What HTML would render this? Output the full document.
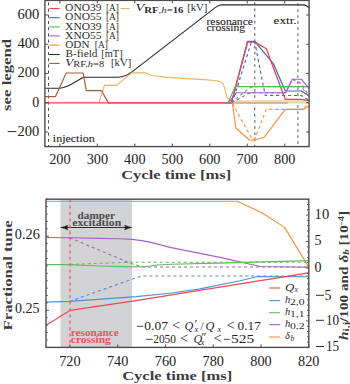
<!DOCTYPE html><html><head><meta charset="utf-8"><style>html,body{margin:0;padding:0;width:350px;height:384px;overflow:hidden;background:#fff}</style></head><body><svg width="350" height="384" viewBox="0 0 350 384" style="position:absolute;left:0;top:0">
<rect width="350" height="384" fill="#fff"/>
<rect x="60.5" y="199.2" width="71.5" height="148.2" fill="#d3d3d5"/>
<line x1="48.5" y1="0.4" x2="48.5" y2="146.6" stroke="#505050" stroke-width="1" stroke-dasharray="3,3.2" stroke-dashoffset="4.2"/>
<line x1="254.8" y1="0.4" x2="254.8" y2="146.6" stroke="#555" stroke-width="1" stroke-dasharray="2.7,3.5" stroke-dashoffset="4.4"/>
<line x1="297.9" y1="0.4" x2="297.9" y2="146.6" stroke="#555" stroke-width="1" stroke-dasharray="2.7,3.3" stroke-dashoffset="3.2"/>
<path d="M44.9,88.3 L59.3,88.3 C68,88.3 76,81 83.6,77.3 L117.9,77.2 C124,77.2 128.5,74.8 133.6,70.6 L215.5,7.4 C218,5.6 219.5,4.9 222,4.9 L303,4.9 C306,5.0 308,6.5 309.1,8" fill="none" stroke="#2b2b2b" stroke-width="1.1"/>
<polyline points="98.80,103.00 104.40,85.40 116.40,85.40 131.90,72.90 145.60,72.90 151.60,75.50 170.00,77.60 200.00,79.40 212.00,80.20 218.00,81.00 221.30,82.30 223.30,84.30 224.60,87.60 225.70,92.80 227.00,97.30 229.30,99.90 233.00,101.20" fill="none" stroke="#e8b45e" stroke-width="1.1" stroke-linejoin="round"/>
<polyline points="232.00,101.90 306.10,101.90 309.10,103.00" fill="none" stroke="#f1d8aa" stroke-width="3.2" stroke-linejoin="round"/>
<polyline points="44.90,96.60 55.50,96.60 66.20,73.00 83.20,73.00 86.30,90.70 101.60,90.70 108.40,102.90 232.00,103.00" fill="none" stroke="#a35e3c" stroke-width="1.2" stroke-linejoin="round"/>
<polyline points="232.00,103.00 288.00,103.00" fill="none" stroke="#b98e70" stroke-width="1.0" stroke-linejoin="round"/>
<polyline points="231.40,102.90 247.50,41.30 254.60,41.30 273.20,63.30 285.30,91.00 301.40,91.00 309.10,96.00" fill="none" stroke="#4566c0" stroke-width="1.2" stroke-linejoin="round"/>
<polyline points="44.90,102.90 231.30,102.90 247.70,42.10 254.90,42.10 266.30,48.80 285.20,99.30 301.40,99.30 309.10,100.60" fill="none" stroke="#f0404c" stroke-width="1.25" stroke-linejoin="round"/>
<polyline points="232.30,102.90 251.30,42.30 254.80,42.30 265.20,95.40 301.40,95.50 309.10,100.50" fill="none" stroke="#4566c0" stroke-width="1.15" stroke-dasharray="3.1,2.9" stroke-linejoin="round"/>
<polyline points="228.10,102.80 235.00,86.60 309.10,86.60" fill="none" stroke="#5cb65a" stroke-width="1.1" stroke-linejoin="round"/>
<polyline points="231.00,102.80 249.30,88.10 252.70,86.60 301.40,86.60 309.10,97.00" fill="none" stroke="#5cb65a" stroke-width="1.1" stroke-dasharray="3.1,2.9" stroke-linejoin="round"/>
<polyline points="228.50,102.80 236.10,92.80 285.70,92.80 292.30,79.20 301.40,79.20 309.10,88.70" fill="none" stroke="#a25cc2" stroke-width="1.1" stroke-linejoin="round"/>
<polyline points="231.50,102.80 248.00,93.90 252.00,92.80 285.70,92.80 292.30,79.20 301.40,83.70 309.10,96.40" fill="none" stroke="#a25cc2" stroke-width="1.1" stroke-dasharray="3.1,2.9" stroke-linejoin="round"/>
<polyline points="232.40,103.50 235.90,128.00 249.30,140.00 254.90,140.10 264.60,136.90 285.20,109.40 303.20,109.40 309.10,106.00" fill="none" stroke="#ff8c34" stroke-width="1.1" stroke-linejoin="round"/>
<polyline points="232.40,103.50 252.30,139.30 254.90,138.50 266.30,109.40 303.20,109.40 306.60,105.00 309.10,103.00" fill="none" stroke="#ff8c34" stroke-width="1.1" stroke-dasharray="3.1,2.9" stroke-linejoin="round"/>
<line x1="49.3" y1="8.5" x2="59.7" y2="8.5" stroke="#f0404c" stroke-width="1.1"/>
<line x1="49.3" y1="17.7" x2="59.7" y2="17.7" stroke="#4566c0" stroke-width="1.1"/>
<line x1="49.3" y1="26.9" x2="59.7" y2="26.9" stroke="#5cb65a" stroke-width="1.1"/>
<line x1="49.3" y1="35.9" x2="59.7" y2="35.9" stroke="#a25cc2" stroke-width="1.1"/>
<line x1="49.3" y1="45.1" x2="59.7" y2="45.1" stroke="#ff8c34" stroke-width="1.1"/>
<line x1="49.3" y1="54.5" x2="59.7" y2="54.5" stroke="#2b2b2b" stroke-width="1.1"/>
<line x1="49.3" y1="63.4" x2="59.7" y2="63.4" stroke="#a35e3c" stroke-width="1.1"/>
<line x1="120.7" y1="8.5" x2="129.8" y2="8.5" stroke="#e8b45e" stroke-width="1.1"/>
<rect x="44.9" y="0.4" width="264.20000000000005" height="146.2" fill="none" stroke="#4d4d4d" stroke-width="1.4"/>
<line x1="44.9" y1="15.02" x2="47.9" y2="15.02" stroke="#4d4d4d" stroke-width="1"/>
<line x1="306.1" y1="15.02" x2="309.1" y2="15.02" stroke="#4d4d4d" stroke-width="1"/>
<line x1="44.9" y1="44.26" x2="47.9" y2="44.26" stroke="#4d4d4d" stroke-width="1"/>
<line x1="306.1" y1="44.26" x2="309.1" y2="44.26" stroke="#4d4d4d" stroke-width="1"/>
<line x1="44.9" y1="73.50" x2="47.9" y2="73.50" stroke="#4d4d4d" stroke-width="1"/>
<line x1="306.1" y1="73.50" x2="309.1" y2="73.50" stroke="#4d4d4d" stroke-width="1"/>
<line x1="44.9" y1="102.74" x2="47.9" y2="102.74" stroke="#4d4d4d" stroke-width="1"/>
<line x1="306.1" y1="102.74" x2="309.1" y2="102.74" stroke="#4d4d4d" stroke-width="1"/>
<line x1="44.9" y1="131.98" x2="47.9" y2="131.98" stroke="#4d4d4d" stroke-width="1"/>
<line x1="306.1" y1="131.98" x2="309.1" y2="131.98" stroke="#4d4d4d" stroke-width="1"/>
<line x1="59.89" y1="146.6" x2="59.89" y2="143.6" stroke="#4d4d4d" stroke-width="1"/>
<line x1="59.89" y1="0.4" x2="59.89" y2="3.4" stroke="#4d4d4d" stroke-width="1"/>
<line x1="97.37" y1="146.6" x2="97.37" y2="143.6" stroke="#4d4d4d" stroke-width="1"/>
<line x1="97.37" y1="0.4" x2="97.37" y2="3.4" stroke="#4d4d4d" stroke-width="1"/>
<line x1="134.84" y1="146.6" x2="134.84" y2="143.6" stroke="#4d4d4d" stroke-width="1"/>
<line x1="134.84" y1="0.4" x2="134.84" y2="3.4" stroke="#4d4d4d" stroke-width="1"/>
<line x1="172.32" y1="146.6" x2="172.32" y2="143.6" stroke="#4d4d4d" stroke-width="1"/>
<line x1="172.32" y1="0.4" x2="172.32" y2="3.4" stroke="#4d4d4d" stroke-width="1"/>
<line x1="209.79" y1="146.6" x2="209.79" y2="143.6" stroke="#4d4d4d" stroke-width="1"/>
<line x1="209.79" y1="0.4" x2="209.79" y2="3.4" stroke="#4d4d4d" stroke-width="1"/>
<line x1="247.27" y1="146.6" x2="247.27" y2="143.6" stroke="#4d4d4d" stroke-width="1"/>
<line x1="247.27" y1="0.4" x2="247.27" y2="3.4" stroke="#4d4d4d" stroke-width="1"/>
<line x1="284.74" y1="146.6" x2="284.74" y2="143.6" stroke="#4d4d4d" stroke-width="1"/>
<line x1="284.74" y1="0.4" x2="284.74" y2="3.4" stroke="#4d4d4d" stroke-width="1"/>
<polyline points="46.00,201.20 237.10,201.20 261.00,212.30 284.60,227.40 308.80,267.40" fill="none" stroke="#f78e3a" stroke-width="1.1" stroke-linejoin="round"/>
<polyline points="46.00,237.50 69.70,237.70 100.00,238.40 120.00,238.80 132.00,239.40 142.00,240.60 152.00,242.60 170.00,247.40 220.00,257.40 260.40,266.50 308.80,267.20" fill="none" stroke="#a462c4" stroke-width="1.1" stroke-linejoin="round"/>
<polyline points="69.70,237.70 131.00,263.50 142.90,267.00 308.80,267.00" fill="none" stroke="#a462c4" stroke-width="1.1" stroke-dasharray="3.1,2.9" stroke-linejoin="round"/>
<polyline points="46.00,264.60 69.70,264.60 100.00,266.00 130.00,266.90 145.00,266.70 158.00,265.00 172.00,264.20 218.00,263.10 308.80,260.60" fill="none" stroke="#62ba60" stroke-width="1.1" stroke-linejoin="round"/>
<polyline points="69.70,264.40 131.00,262.20 308.80,262.20" fill="none" stroke="#62ba60" stroke-width="1.1" stroke-dasharray="3.1,2.9" stroke-linejoin="round"/>
<polyline points="46.00,302.10 69.70,301.40 136.00,296.60 170.00,293.20 200.00,288.90 240.00,280.70 258.00,276.50 308.80,276.70" fill="none" stroke="#5092d4" stroke-width="1.1" stroke-linejoin="round"/>
<polyline points="69.70,301.40 136.00,277.90 142.00,276.00 308.80,276.00" fill="none" stroke="#5092d4" stroke-width="1.1" stroke-dasharray="3.1,2.9" stroke-linejoin="round"/>
<polyline points="46.00,325.30 70.00,310.40 136.00,300.60 240.00,283.90 308.80,272.90" fill="none" stroke="#ea4a54" stroke-width="1.2" stroke-linejoin="round"/>
<line x1="269.2" y1="288.0" x2="280.2" y2="288.0" stroke="#ea4a54" stroke-width="1.1"/>
<line x1="269.2" y1="300.6" x2="280.2" y2="300.6" stroke="#5092d4" stroke-width="1.1"/>
<line x1="269.2" y1="312.7" x2="280.2" y2="312.7" stroke="#62ba60" stroke-width="1.1"/>
<line x1="269.2" y1="324.6" x2="280.2" y2="324.6" stroke="#a462c4" stroke-width="1.1"/>
<line x1="269.2" y1="337.0" x2="280.2" y2="337.0" stroke="#f78e3a" stroke-width="1.1"/>
<line x1="61.5" y1="227.5" x2="131.0" y2="227.5" stroke="#1e1e1e" stroke-width="0.9"/>
<path d="M60.5,227.5 Q64.5,226.9 68.1,225.0 Q66.1,227.5 68.1,230.0 Q64.5,228.1 60.5,227.5 Z" fill="#1a1a1a" stroke="#1a1a1a" stroke-width="0.35"/>
<path d="M132.0,227.5 Q128.0,226.9 124.4,225.0 Q126.4,227.5 124.4,230.0 Q128.0,228.1 132.0,227.5 Z" fill="#1a1a1a" stroke="#1a1a1a" stroke-width="0.35"/>
<line x1="70" y1="199.2" x2="70" y2="347.4" stroke="#e8525a" stroke-width="1.2" stroke-dasharray="3,3.4"/>
<rect x="46.0" y="199.2" width="262.8" height="148.2" fill="none" stroke="#4d4d4d" stroke-width="1.4"/>
<line x1="46.0" y1="347.40" x2="47.8" y2="347.40" stroke="#4d4d4d" stroke-width="0.9"/>
<line x1="46.0" y1="339.99" x2="47.8" y2="339.99" stroke="#4d4d4d" stroke-width="0.9"/>
<line x1="46.0" y1="332.58" x2="47.8" y2="332.58" stroke="#4d4d4d" stroke-width="0.9"/>
<line x1="46.0" y1="325.17" x2="47.8" y2="325.17" stroke="#4d4d4d" stroke-width="0.9"/>
<line x1="46.0" y1="317.76" x2="47.8" y2="317.76" stroke="#4d4d4d" stroke-width="0.9"/>
<line x1="46.0" y1="310.35" x2="49.0" y2="310.35" stroke="#4d4d4d" stroke-width="0.9"/>
<line x1="46.0" y1="302.94" x2="47.8" y2="302.94" stroke="#4d4d4d" stroke-width="0.9"/>
<line x1="46.0" y1="295.53" x2="47.8" y2="295.53" stroke="#4d4d4d" stroke-width="0.9"/>
<line x1="46.0" y1="288.12" x2="47.8" y2="288.12" stroke="#4d4d4d" stroke-width="0.9"/>
<line x1="46.0" y1="280.71" x2="47.8" y2="280.71" stroke="#4d4d4d" stroke-width="0.9"/>
<line x1="46.0" y1="273.30" x2="47.8" y2="273.30" stroke="#4d4d4d" stroke-width="0.9"/>
<line x1="46.0" y1="265.89" x2="47.8" y2="265.89" stroke="#4d4d4d" stroke-width="0.9"/>
<line x1="46.0" y1="258.48" x2="47.8" y2="258.48" stroke="#4d4d4d" stroke-width="0.9"/>
<line x1="46.0" y1="251.07" x2="47.8" y2="251.07" stroke="#4d4d4d" stroke-width="0.9"/>
<line x1="46.0" y1="243.66" x2="47.8" y2="243.66" stroke="#4d4d4d" stroke-width="0.9"/>
<line x1="46.0" y1="236.25" x2="49.0" y2="236.25" stroke="#4d4d4d" stroke-width="0.9"/>
<line x1="46.0" y1="228.84" x2="47.8" y2="228.84" stroke="#4d4d4d" stroke-width="0.9"/>
<line x1="46.0" y1="221.43" x2="47.8" y2="221.43" stroke="#4d4d4d" stroke-width="0.9"/>
<line x1="46.0" y1="214.02" x2="47.8" y2="214.02" stroke="#4d4d4d" stroke-width="0.9"/>
<line x1="46.0" y1="206.61" x2="47.8" y2="206.61" stroke="#4d4d4d" stroke-width="0.9"/>
<line x1="46.0" y1="199.20" x2="47.8" y2="199.20" stroke="#4d4d4d" stroke-width="0.9"/>
<line x1="305.8" y1="347.40" x2="308.8" y2="347.40" stroke="#4d4d4d" stroke-width="0.9"/>
<line x1="307.0" y1="342.11" x2="308.8" y2="342.11" stroke="#4d4d4d" stroke-width="0.9"/>
<line x1="307.0" y1="336.81" x2="308.8" y2="336.81" stroke="#4d4d4d" stroke-width="0.9"/>
<line x1="307.0" y1="331.52" x2="308.8" y2="331.52" stroke="#4d4d4d" stroke-width="0.9"/>
<line x1="307.0" y1="326.23" x2="308.8" y2="326.23" stroke="#4d4d4d" stroke-width="0.9"/>
<line x1="305.8" y1="320.94" x2="308.8" y2="320.94" stroke="#4d4d4d" stroke-width="0.9"/>
<line x1="307.0" y1="315.64" x2="308.8" y2="315.64" stroke="#4d4d4d" stroke-width="0.9"/>
<line x1="307.0" y1="310.35" x2="308.8" y2="310.35" stroke="#4d4d4d" stroke-width="0.9"/>
<line x1="307.0" y1="305.06" x2="308.8" y2="305.06" stroke="#4d4d4d" stroke-width="0.9"/>
<line x1="307.0" y1="299.76" x2="308.8" y2="299.76" stroke="#4d4d4d" stroke-width="0.9"/>
<line x1="305.8" y1="294.47" x2="308.8" y2="294.47" stroke="#4d4d4d" stroke-width="0.9"/>
<line x1="307.0" y1="289.18" x2="308.8" y2="289.18" stroke="#4d4d4d" stroke-width="0.9"/>
<line x1="307.0" y1="283.89" x2="308.8" y2="283.89" stroke="#4d4d4d" stroke-width="0.9"/>
<line x1="307.0" y1="278.59" x2="308.8" y2="278.59" stroke="#4d4d4d" stroke-width="0.9"/>
<line x1="307.0" y1="273.30" x2="308.8" y2="273.30" stroke="#4d4d4d" stroke-width="0.9"/>
<line x1="305.8" y1="268.01" x2="308.8" y2="268.01" stroke="#4d4d4d" stroke-width="0.9"/>
<line x1="307.0" y1="262.71" x2="308.8" y2="262.71" stroke="#4d4d4d" stroke-width="0.9"/>
<line x1="307.0" y1="257.42" x2="308.8" y2="257.42" stroke="#4d4d4d" stroke-width="0.9"/>
<line x1="307.0" y1="252.13" x2="308.8" y2="252.13" stroke="#4d4d4d" stroke-width="0.9"/>
<line x1="307.0" y1="246.84" x2="308.8" y2="246.84" stroke="#4d4d4d" stroke-width="0.9"/>
<line x1="305.8" y1="241.54" x2="308.8" y2="241.54" stroke="#4d4d4d" stroke-width="0.9"/>
<line x1="307.0" y1="236.25" x2="308.8" y2="236.25" stroke="#4d4d4d" stroke-width="0.9"/>
<line x1="307.0" y1="230.96" x2="308.8" y2="230.96" stroke="#4d4d4d" stroke-width="0.9"/>
<line x1="307.0" y1="225.66" x2="308.8" y2="225.66" stroke="#4d4d4d" stroke-width="0.9"/>
<line x1="307.0" y1="220.37" x2="308.8" y2="220.37" stroke="#4d4d4d" stroke-width="0.9"/>
<line x1="305.8" y1="215.08" x2="308.8" y2="215.08" stroke="#4d4d4d" stroke-width="0.9"/>
<line x1="307.0" y1="209.79" x2="308.8" y2="209.79" stroke="#4d4d4d" stroke-width="0.9"/>
<line x1="307.0" y1="204.49" x2="308.8" y2="204.49" stroke="#4d4d4d" stroke-width="0.9"/>
<line x1="307.0" y1="199.20" x2="308.8" y2="199.20" stroke="#4d4d4d" stroke-width="0.9"/>
<line x1="69.89" y1="347.4" x2="69.89" y2="344.4" stroke="#4d4d4d" stroke-width="1"/>
<line x1="117.67" y1="347.4" x2="117.67" y2="344.4" stroke="#4d4d4d" stroke-width="1"/>
<line x1="165.45" y1="347.4" x2="165.45" y2="344.4" stroke="#4d4d4d" stroke-width="1"/>
<line x1="213.24" y1="347.4" x2="213.24" y2="344.4" stroke="#4d4d4d" stroke-width="1"/>
<line x1="261.02" y1="347.4" x2="261.02" y2="344.4" stroke="#4d4d4d" stroke-width="1"/>
<line x1="308.80" y1="347.4" x2="308.80" y2="344.4" stroke="#4d4d4d" stroke-width="1"/>
<text x="39.2" y="18.919999999999998" font-size="14" text-anchor="end" font-weight="normal" fill="#222" font-family="Liberation Serif, serif" textLength="21.8" lengthAdjust="spacingAndGlyphs" >600</text>
<text x="39.2" y="48.160000000000004" font-size="14" text-anchor="end" font-weight="normal" fill="#222" font-family="Liberation Serif, serif" textLength="21.8" lengthAdjust="spacingAndGlyphs" >400</text>
<text x="39.2" y="77.4" font-size="14" text-anchor="end" font-weight="normal" fill="#222" font-family="Liberation Serif, serif" textLength="21.8" lengthAdjust="spacingAndGlyphs" >200</text>
<text x="39.2" y="106.64" font-size="14" text-anchor="end" font-weight="normal" fill="#222" font-family="Liberation Serif, serif" >0</text>
<text x="39.2" y="135.88" font-size="14" text-anchor="end" font-weight="normal" fill="#222" font-family="Liberation Serif, serif" textLength="21.8" lengthAdjust="spacingAndGlyphs" >200</text>
<line x1="7.6" y1="131.58" x2="16.4" y2="131.58" stroke="#222" stroke-width="0.95"/>
<text x="59.89007092198582" y="164.2" font-size="14" text-anchor="middle" font-weight="normal" fill="#222" font-family="Liberation Serif, serif" textLength="21.4" lengthAdjust="spacingAndGlyphs" >200</text>
<text x="97.36524822695037" y="164.2" font-size="14" text-anchor="middle" font-weight="normal" fill="#222" font-family="Liberation Serif, serif" textLength="21.4" lengthAdjust="spacingAndGlyphs" >300</text>
<text x="134.84042553191492" y="164.2" font-size="14" text-anchor="middle" font-weight="normal" fill="#222" font-family="Liberation Serif, serif" textLength="21.4" lengthAdjust="spacingAndGlyphs" >400</text>
<text x="172.31560283687946" y="164.2" font-size="14" text-anchor="middle" font-weight="normal" fill="#222" font-family="Liberation Serif, serif" textLength="21.4" lengthAdjust="spacingAndGlyphs" >500</text>
<text x="209.790780141844" y="164.2" font-size="14" text-anchor="middle" font-weight="normal" fill="#222" font-family="Liberation Serif, serif" textLength="21.4" lengthAdjust="spacingAndGlyphs" >600</text>
<text x="247.26595744680856" y="164.2" font-size="14" text-anchor="middle" font-weight="normal" fill="#222" font-family="Liberation Serif, serif" textLength="21.4" lengthAdjust="spacingAndGlyphs" >700</text>
<text x="284.7411347517731" y="164.2" font-size="14" text-anchor="middle" font-weight="normal" fill="#222" font-family="Liberation Serif, serif" textLength="21.4" lengthAdjust="spacingAndGlyphs" >800</text>
<text x="176.2" y="179.3" font-size="13" text-anchor="middle" font-weight="bold" fill="#3c3c3c" font-family="Liberation Serif, serif" textLength="110" lengthAdjust="spacingAndGlyphs" >Cycle time [ms]</text>
<text x="0" y="0" font-size="13" text-anchor="middle" font-weight="bold" fill="#3c3c3c" font-family="Liberation Serif, serif" textLength="72" lengthAdjust="spacingAndGlyphs" transform="translate(11.2,74.9) rotate(-90)">see legend</text>
<text x="65.1" y="11.1" font-size="9.5" text-anchor="start" font-weight="normal" fill="#2c2c2c" font-family="Liberation Serif, serif" textLength="36.5" lengthAdjust="spacingAndGlyphs" >ONO39</text>
<text x="106.0" y="11.1" font-size="9.5" text-anchor="start" font-weight="normal" fill="#2c2c2c" font-family="Liberation Serif, serif" textLength="13.0" lengthAdjust="spacingAndGlyphs" >[A]</text>
<text x="65.1" y="20.3" font-size="9.5" text-anchor="start" font-weight="normal" fill="#2c2c2c" font-family="Liberation Serif, serif" textLength="36.5" lengthAdjust="spacingAndGlyphs" >ONO55</text>
<text x="106.0" y="20.3" font-size="9.5" text-anchor="start" font-weight="normal" fill="#2c2c2c" font-family="Liberation Serif, serif" textLength="13.0" lengthAdjust="spacingAndGlyphs" >[A]</text>
<text x="65.1" y="29.5" font-size="9.5" text-anchor="start" font-weight="normal" fill="#2c2c2c" font-family="Liberation Serif, serif" textLength="36.5" lengthAdjust="spacingAndGlyphs" >XNO39</text>
<text x="106.0" y="29.5" font-size="9.5" text-anchor="start" font-weight="normal" fill="#2c2c2c" font-family="Liberation Serif, serif" textLength="13.0" lengthAdjust="spacingAndGlyphs" >[A]</text>
<text x="65.1" y="38.5" font-size="9.5" text-anchor="start" font-weight="normal" fill="#2c2c2c" font-family="Liberation Serif, serif" textLength="36.5" lengthAdjust="spacingAndGlyphs" >XNO55</text>
<text x="106.0" y="38.5" font-size="9.5" text-anchor="start" font-weight="normal" fill="#2c2c2c" font-family="Liberation Serif, serif" textLength="13.0" lengthAdjust="spacingAndGlyphs" >[A]</text>
<text x="65.3" y="47.7" font-size="9.5" text-anchor="start" font-weight="normal" fill="#2c2c2c" font-family="Liberation Serif, serif" textLength="24.2" lengthAdjust="spacingAndGlyphs" >ODN</text>
<text x="94.8" y="47.7" font-size="9.5" text-anchor="start" font-weight="normal" fill="#2c2c2c" font-family="Liberation Serif, serif" textLength="13.0" lengthAdjust="spacingAndGlyphs" >[A]</text>
<text x="65.5" y="57.1" font-size="9.5" text-anchor="start" font-weight="normal" fill="#2c2c2c" font-family="Liberation Serif, serif" textLength="32.0" lengthAdjust="spacingAndGlyphs" >B-field</text>
<text x="101.3" y="57.1" font-size="9.5" text-anchor="start" font-weight="normal" fill="#2c2c2c" font-family="Liberation Serif, serif" textLength="21.3" lengthAdjust="spacingAndGlyphs" >[mT]</text>
<text x="65.2" y="66.0" font-size="10" fill="#2c2c2c" font-family="Liberation Serif, serif" textLength="39" lengthAdjust="spacingAndGlyphs"><tspan font-style="italic">V</tspan><tspan font-size="8" dy="1.4">RF</tspan><tspan font-size="8">,</tspan><tspan font-size="8" font-style="italic">h</tspan><tspan font-size="8">=8</tspan></text>
<text x="111.0" y="66.0" font-size="10" text-anchor="start" font-weight="normal" fill="#2c2c2c" font-family="Liberation Serif, serif" textLength="20.2" lengthAdjust="spacingAndGlyphs" >[kV]</text>
<text x="135.5" y="11.1" font-size="10" fill="#2c2c2c" font-family="Liberation Serif, serif" textLength="48" lengthAdjust="spacingAndGlyphs"><tspan font-style="italic">V</tspan><tspan font-size="7.5" font-weight="bold" dy="1.4">RF</tspan><tspan font-size="7.5">,</tspan><tspan font-size="7.5" font-style="italic">h</tspan><tspan font-size="7.5">=</tspan><tspan font-size="7.5" font-weight="bold">16</tspan></text>
<text x="187.2" y="11.1" font-size="10" text-anchor="start" font-weight="normal" fill="#2c2c2c" font-family="Liberation Serif, serif" textLength="20.2" lengthAdjust="spacingAndGlyphs" >[kV]</text>
<text x="206.5" y="24.6" font-size="10" text-anchor="start" font-weight="normal" fill="#1a1a1a" font-family="Liberation Serif, serif" textLength="46.5" lengthAdjust="spacingAndGlyphs" stroke="#1a1a1a" stroke-width="0.08">resonance</text>
<text x="206.5" y="31.4" font-size="10" text-anchor="start" font-weight="normal" fill="#1a1a1a" font-family="Liberation Serif, serif" textLength="38.5" lengthAdjust="spacingAndGlyphs" stroke="#1a1a1a" stroke-width="0.08">crossing</text>
<text x="273.6" y="24.3" font-size="10" text-anchor="start" font-weight="normal" fill="#1a1a1a" font-family="Liberation Serif, serif" textLength="23" lengthAdjust="spacingAndGlyphs" stroke="#1a1a1a" stroke-width="0.08">extr.</text>
<text x="52.8" y="141.6" font-size="10" text-anchor="start" font-weight="normal" fill="#1a1a1a" font-family="Liberation Serif, serif" textLength="42" lengthAdjust="spacingAndGlyphs" stroke="#1a1a1a" stroke-width="0.08">injection</text>
<text x="39.8" y="239.4" font-size="14" text-anchor="end" font-weight="normal" fill="#222" font-family="Liberation Serif, serif" textLength="25" lengthAdjust="spacingAndGlyphs" >0.26</text>
<text x="39.6" y="313.2" font-size="14" text-anchor="end" font-weight="normal" fill="#222" font-family="Liberation Serif, serif" textLength="24.5" lengthAdjust="spacingAndGlyphs" >0.25</text>
<text x="314.6" y="218.79999999999998" font-size="14" text-anchor="start" font-weight="normal" fill="#222" font-family="Liberation Serif, serif" textLength="14.6" lengthAdjust="spacingAndGlyphs" >10</text>
<text x="314.6" y="245.39999999999998" font-size="14" text-anchor="start" font-weight="normal" fill="#222" font-family="Liberation Serif, serif" >5</text>
<text x="314.6" y="271.9" font-size="14" text-anchor="start" font-weight="normal" fill="#222" font-family="Liberation Serif, serif" >0</text>
<text x="324.4" y="299.8" font-size="14" text-anchor="start" font-weight="normal" fill="#222" font-family="Liberation Serif, serif" >5</text>
<line x1="316.0" y1="295.30" x2="324.0" y2="295.30" stroke="#222" stroke-width="0.95"/>
<text x="326.0" y="324.8" font-size="14" text-anchor="start" font-weight="normal" fill="#222" font-family="Liberation Serif, serif" textLength="13.2" lengthAdjust="spacingAndGlyphs" >10</text>
<line x1="316.0" y1="320.30" x2="324.0" y2="320.30" stroke="#222" stroke-width="0.95"/>
<text x="326.0" y="351.0" font-size="14" text-anchor="start" font-weight="normal" fill="#222" font-family="Liberation Serif, serif" textLength="13.2" lengthAdjust="spacingAndGlyphs" >15</text>
<line x1="316.0" y1="346.50" x2="324.0" y2="346.50" stroke="#222" stroke-width="0.95"/>
<text x="69.89090909090909" y="365.6" font-size="14" text-anchor="middle" font-weight="normal" fill="#222" font-family="Liberation Serif, serif" textLength="21.4" lengthAdjust="spacingAndGlyphs" >720</text>
<text x="117.67272727272727" y="365.6" font-size="14" text-anchor="middle" font-weight="normal" fill="#222" font-family="Liberation Serif, serif" textLength="21.4" lengthAdjust="spacingAndGlyphs" >740</text>
<text x="165.45454545454544" y="365.6" font-size="14" text-anchor="middle" font-weight="normal" fill="#222" font-family="Liberation Serif, serif" textLength="21.4" lengthAdjust="spacingAndGlyphs" >760</text>
<text x="213.23636363636365" y="365.6" font-size="14" text-anchor="middle" font-weight="normal" fill="#222" font-family="Liberation Serif, serif" textLength="21.4" lengthAdjust="spacingAndGlyphs" >780</text>
<text x="261.0181818181818" y="365.6" font-size="14" text-anchor="middle" font-weight="normal" fill="#222" font-family="Liberation Serif, serif" textLength="21.4" lengthAdjust="spacingAndGlyphs" >800</text>
<text x="308.8" y="365.6" font-size="14" text-anchor="middle" font-weight="normal" fill="#222" font-family="Liberation Serif, serif" textLength="21.4" lengthAdjust="spacingAndGlyphs" >820</text>
<text x="177.2" y="380.2" font-size="13" text-anchor="middle" font-weight="bold" fill="#3c3c3c" font-family="Liberation Serif, serif" textLength="110" lengthAdjust="spacingAndGlyphs" >Cycle time [ms]</text>
<text x="0" y="0" font-size="13" text-anchor="middle" font-weight="bold" fill="#3c3c3c" font-family="Liberation Serif, serif" textLength="110" lengthAdjust="spacingAndGlyphs" transform="translate(11.7,275.4) rotate(-90)">Fractional tune</text>
<text x="96.3" y="219.2" font-size="9.5" text-anchor="middle" font-weight="bold" fill="#4a4a4a" font-family="Liberation Serif, serif" textLength="37.5" lengthAdjust="spacingAndGlyphs" >damper</text>
<text x="96.7" y="226.4" font-size="9.5" text-anchor="middle" font-weight="bold" fill="#4a4a4a" font-family="Liberation Serif, serif" textLength="49" lengthAdjust="spacingAndGlyphs" >excitation</text>
<text x="70.8" y="336.2" font-size="9.5" text-anchor="start" font-weight="bold" fill="#e65560" font-family="Liberation Serif, serif" textLength="48" lengthAdjust="spacingAndGlyphs" >resonance</text>
<text x="70.8" y="342.6" font-size="9.5" text-anchor="start" font-weight="bold" fill="#e65560" font-family="Liberation Serif, serif" textLength="40" lengthAdjust="spacingAndGlyphs" >crossing</text>
<line x1="136.9" y1="326.3" x2="143.4" y2="326.3" stroke="#262626" stroke-width="0.85"/>
<text x="144.3" y="330.1" font-size="11.5" font-style="normal" fill="#262626" font-family="Liberation Serif, serif" textLength="23.6" lengthAdjust="spacingAndGlyphs">0.07</text>
<text x="171.9" y="330.40000000000003" font-size="14.5" font-style="normal" fill="#262626" font-family="Liberation Serif, serif">&lt;</text>
<text x="184.4" y="330.1" font-size="12.2" font-style="italic" fill="#262626" font-family="Liberation Serif, serif">Q</text>
<text x="194.0" y="328.2" font-size="11.5" font-style="italic" fill="#262626" font-family="Liberation Serif, serif">&#8242;</text>
<text x="194.4" y="331.5" font-size="8" font-style="italic" fill="#262626" font-family="Liberation Serif, serif">x</text>
<text x="200.6" y="330.1" font-size="11.5" font-style="normal" fill="#262626" font-family="Liberation Serif, serif">/</text>
<text x="205.6" y="330.1" font-size="12.2" font-style="italic" fill="#262626" font-family="Liberation Serif, serif">Q</text>
<text x="217.4" y="331.5" font-size="8.5" font-style="italic" fill="#262626" font-family="Liberation Serif, serif">x</text>
<text x="226.5" y="330.40000000000003" font-size="14.5" font-style="normal" fill="#262626" font-family="Liberation Serif, serif">&lt;</text>
<text x="237.6" y="330.1" font-size="11.5" font-style="normal" fill="#262626" font-family="Liberation Serif, serif" textLength="23.2" lengthAdjust="spacingAndGlyphs">0.17</text>
<line x1="146.2" y1="339.3" x2="152.7" y2="339.3" stroke="#262626" stroke-width="0.85"/>
<text x="153.2" y="343.1" font-size="11.5" font-style="normal" fill="#262626" font-family="Liberation Serif, serif" textLength="22.8" lengthAdjust="spacingAndGlyphs">2050</text>
<text x="179.9" y="343.40000000000003" font-size="14.5" font-style="normal" fill="#262626" font-family="Liberation Serif, serif">&lt;</text>
<text x="193.4" y="343.1" font-size="12.2" font-style="italic" fill="#262626" font-family="Liberation Serif, serif">Q</text>
<text x="200.8" y="341.2" font-size="11.5" font-style="italic" fill="#262626" font-family="Liberation Serif, serif">&#8243;</text>
<text x="200.8" y="344.5" font-size="8" font-style="italic" fill="#262626" font-family="Liberation Serif, serif">x</text>
<text x="213.5" y="343.40000000000003" font-size="14.5" font-style="normal" fill="#262626" font-family="Liberation Serif, serif">&lt;</text>
<line x1="224.0" y1="339.3" x2="229.8" y2="339.3" stroke="#262626" stroke-width="0.85"/>
<text x="231.1" y="343.1" font-size="11.5" font-style="normal" fill="#262626" font-family="Liberation Serif, serif" textLength="23.2" lengthAdjust="spacingAndGlyphs">525</text>
<text x="285.0" y="290.6" font-size="11" text-anchor="start" font-weight="normal" fill="#2a2a2a" font-family="Liberation Serif, serif" textLength="9.3" lengthAdjust="spacingAndGlyphs" ><tspan font-style="italic">Q</tspan></text>
<text x="294.4" y="292.0" font-size="7.5" font-style="italic" fill="#2a2a2a" font-family="Liberation Serif, serif">x</text>
<text x="284.9" y="303.2" font-size="10.5" font-style="italic" fill="#2a2a2a" font-family="Liberation Serif, serif">h</text>
<text x="290.0" y="304.59999999999997" font-size="7.5" fill="#2a2a2a" font-family="Liberation Serif, serif" textLength="14.6" lengthAdjust="spacingAndGlyphs">2,0</text>
<text x="284.9" y="315.3" font-size="10.5" font-style="italic" fill="#2a2a2a" font-family="Liberation Serif, serif">h</text>
<text x="290.0" y="316.7" font-size="7.5" fill="#2a2a2a" font-family="Liberation Serif, serif" textLength="14.6" lengthAdjust="spacingAndGlyphs">1,1</text>
<text x="284.9" y="327.2" font-size="10.5" font-style="italic" fill="#2a2a2a" font-family="Liberation Serif, serif">h</text>
<text x="290.0" y="328.59999999999997" font-size="7.5" fill="#2a2a2a" font-family="Liberation Serif, serif" textLength="14.6" lengthAdjust="spacingAndGlyphs">0,2</text>
<text x="285.0" y="339.0" font-size="10.5" font-style="italic" fill="#2a2a2a" font-family="Liberation Serif, serif">δ</text>
<text x="290.4" y="340.5" font-size="7.5" font-style="italic" fill="#2a2a2a" font-family="Liberation Serif, serif">b</text>
<text x="0" y="0" font-size="12.5" text-anchor="middle" font-weight="bold" fill="#3c3c3c" font-family="Liberation Serif, serif" textLength="129" lengthAdjust="spacingAndGlyphs" transform="translate(347.6,275.4) rotate(-90)"><tspan font-style="italic">h</tspan><tspan font-size="9" dy="1.8">i,j</tspan><tspan dy="-1.8">/100 and </tspan><tspan font-style="italic">δ</tspan><tspan font-size="9" font-style="italic" dy="1.8">b</tspan><tspan dy="-1.8"> [10</tspan><tspan font-size="9" dy="-4">-4</tspan><tspan dy="4">]</tspan></text>
</svg></body></html>
